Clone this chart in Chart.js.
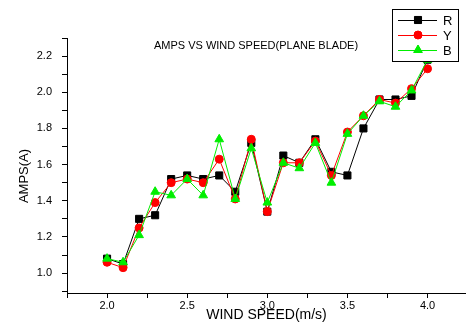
<!DOCTYPE html>
<html>
  <head>
    <meta charset="UTF-8" />
    <title>Amps vs wind speed</title>
    <script src="https://cdn.jsdelivr.net/npm/chart.js"></script>
    <style type="text/css">
      body{ margin:0; background:#fff; }
      #chart{ display:block; }
    </style>
  </head>
  <body>
    <canvas id="chart" width="466" height="332"></canvas>

    <script>
      // values
      var windSpeed = [2.0, 2.1, 2.2, 2.3, 2.4, 2.5, 2.6, 2.7, 2.8, 2.9, 3.0, 3.1, 3.2, 3.3, 3.4, 3.5, 3.6, 3.7, 3.8, 3.9, 4.0];
      var ampsR = [1.08, 1.05, 1.30, 1.32, 1.52, 1.54, 1.52, 1.54, 1.45, 1.72, 1.34, 1.65, 1.61, 1.74, 1.56, 1.54, 1.80, 1.96, 1.96, 1.98, 2.18];
      var ampsY = [1.06, 1.03, 1.25, 1.39, 1.50, 1.52, 1.50, 1.63, 1.41, 1.74, 1.34, 1.61, 1.61, 1.73, 1.54, 1.78, 1.87, 1.96, 1.94, 2.02, 2.13];
      var ampsB = [1.08, 1.06, 1.21, 1.45, 1.43, 1.52, 1.43, 1.74, 1.41, 1.69, 1.39, 1.61, 1.58, 1.72, 1.50, 1.77, 1.87, 1.95, 1.92, 2.01, 2.18];
      var seriesNames = ['R', 'Y', 'B'];
      var chartTitle = 'AMPS VS WIND SPEED(PLANE BLADE)';
      var xTitle = 'WIND SPEED(m/s)';
      var yTitle = 'AMPS(A)';

      var FONT = '"Liberation Sans", Arial, sans-serif';

      function pts(ys){
        return windSpeed.map(function(x, i){ return {x: x, y: ys[i]}; });
      }

      function isMultiple(v, step){
        var r = v / step;
        return Math.abs(r - Math.round(r)) < 1e-6;
      }

      var series = [
        {label: seriesNames[0], data: pts(ampsR), color: '#000000', style: 'rect', radius: 5, order: 3},
        {label: seriesNames[1], data: pts(ampsY), color: '#ff0000', style: 'circle', radius: 4, order: 2},
        {label: seriesNames[2], data: pts(ampsB), color: '#00ee00', style: 'triangle', radius: 5, order: 1}
      ];

      // chart title, y title and the boxed legend
      var extras = {
        id: 'extras',
        afterDraw: function(chart){
          var ctx = chart.ctx;
          ctx.save();
          ctx.fillStyle = '#000';
          ctx.textBaseline = 'middle';

          ctx.font = '11px ' + FONT;
          ctx.textAlign = 'center';
          ctx.fillText(chartTitle, 256, 46);

          ctx.font = '13px ' + FONT;
          ctx.translate(24, 176);
          ctx.rotate(-Math.PI / 2);
          ctx.fillText(yTitle, 0, 0);
          ctx.setTransform(1, 0, 0, 1, 0, 0);

          // legend
          ctx.fillStyle = '#fff';
          ctx.fillRect(392, 9, 66, 52);
          ctx.strokeStyle = '#000';
          ctx.lineWidth = 1;
          ctx.strokeRect(392.5, 9.5, 66, 52);
          ctx.font = '13px ' + FONT;
          ctx.textAlign = 'left';
          series.forEach(function(s, i){
            var y = 20 + i * 15;
            ctx.strokeStyle = s.color;
            ctx.beginPath();
            ctx.moveTo(398, y + 0.5);
            ctx.lineTo(437, y + 0.5);
            ctx.stroke();
            ctx.fillStyle = s.color;
            Chart.helpers.drawPoint(ctx, {pointStyle: s.style, radius: s.radius, borderWidth: 1}, 418, y);
            ctx.fill();
            ctx.fillStyle = '#000';
            ctx.fillText(s.label, 443, y + 1);
          });
          ctx.restore();
        }
      };

      new Chart(document.getElementById('chart'), {
        type: 'line',
        data: {
          datasets: series.map(function(s){
            return {
              label: s.label,
              data: s.data,
              order: s.order,
              borderColor: s.color,
              backgroundColor: s.color,
              borderWidth: 1,
              tension: 0,
              pointStyle: s.style,
              pointRadius: s.radius,
              pointBorderWidth: 1,
              pointBackgroundColor: s.color,
              pointBorderColor: s.color
            };
          })
        },
        options: {
          responsive: false,
          animation: false,
          layout: { autoPadding: false, padding: { top: 38, right: 0, left: 0, bottom: 0 } },
          plugins: {
            legend: { display: false },
            title: { display: false },
            tooltip: { enabled: false }
          },
          scales: {
            x: {
              type: 'linear',
              min: 1.75,
              max: 4.24,
              afterFit: function(scale){ scale.height = 39; },
              border: { color: '#000', width: 1 },
              grid: { drawOnChartArea: false, drawTicks: true, tickLength: 5, color: '#000' },
              ticks: {
                stepSize: 0.25,
                includeBounds: false,
                autoSkip: false,
                maxRotation: 0,
                padding: 1,
                color: '#000',
                font: { family: FONT, size: 11 },
                callback: function(v){ return isMultiple(v, 0.5) && v >= 2 ? v.toFixed(1) : ''; }
              },
              title: {
                display: true,
                text: xTitle,
                color: '#000',
                font: { family: FONT, size: 14 },
                padding: { top: 0, bottom: 8 }
              }
            },
            y: {
              min: 0.89,
              max: 2.3,
              afterFit: function(scale){ scale.width = 67; },
              border: { color: '#000', width: 1 },
              grid: { drawOnChartArea: false, drawTicks: true, tickLength: 5, color: '#000' },
              ticks: {
                stepSize: 0.1,
                includeBounds: false,
                autoSkip: false,
                padding: 10,
                color: '#000',
                font: { family: FONT, size: 11 },
                callback: function(v){ return isMultiple(v, 0.2) && v >= 0.99 ? v.toFixed(1) : ''; }
              }
            }
          }
        },
        plugins: [extras]
      });
    </script>
  </body>
</html>
